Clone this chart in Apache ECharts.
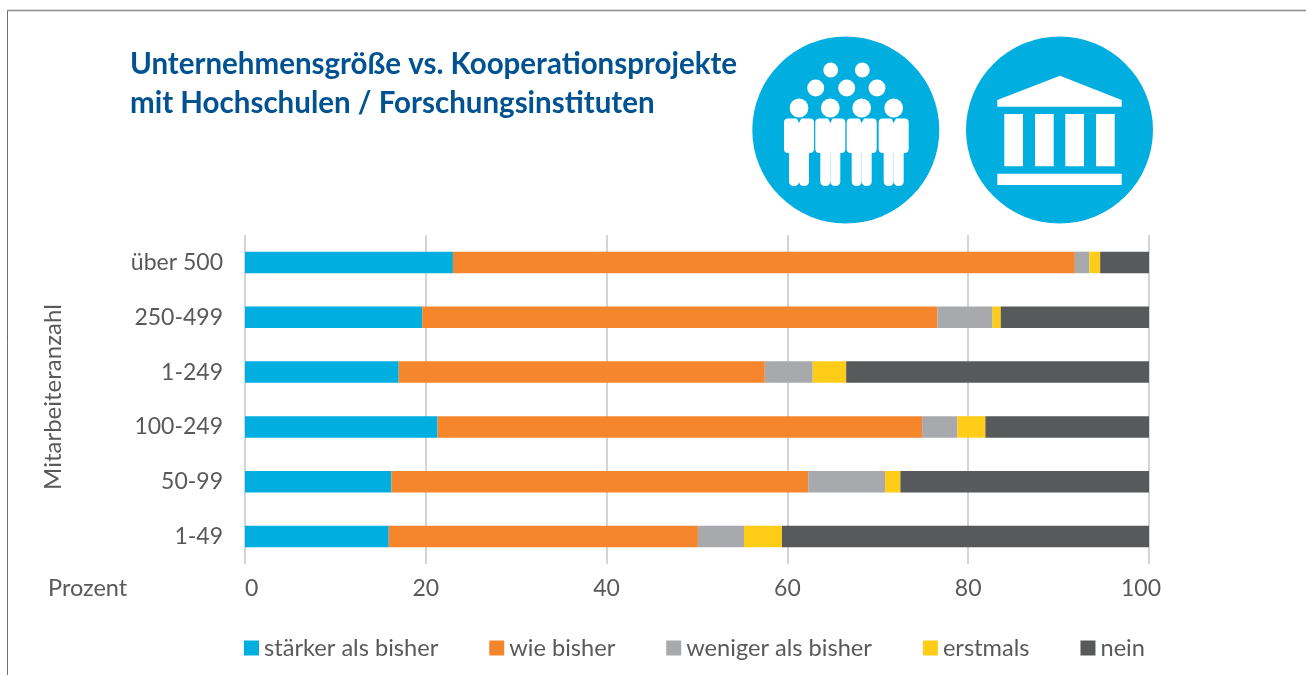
<!DOCTYPE html>
<html><head><meta charset="utf-8">
<style>html,body{margin:0;padding:0;background:#fff}#c{width:1306px;height:675px}</style>
<script src="https://cdn.jsdelivr.net/npm/echarts@6/dist/echarts.min.js"></script>
</head><body><div id="c"></div>
<script>
const categories = ['1-49','50-99','100-249','1-249','250-499','über 500'];
const staerker = [15.9,16.2,21.3,17.0,19.6,23.0];
const wieBisher = [34.2,46.1,53.6,40.5,57.0,68.8];
const weniger = [5.1,8.5,3.9,5.3,6.1,1.6];
const erstmals = [4.2,1.7,3.1,3.7,0.9,1.2];
const nein = [40.6,27.5,18.1,33.5,16.4,5.4];
const seriesNames = ['stärker als bisher','wie bisher','weniger als bisher','erstmals','nein'];
const seriesColors = ['#00aee0','#f6862c','#a7a9ac','#ffcd17','#58595b'];
const seriesValues = [staerker,wieBisher,weniger,erstmals,nein];
const titleLines = 'Unternehmensgröße vs. Kooperationsprojekte\nmit Hochschulen / Forschungsinstituten';
const FONT = 'Lato';
const TXT = '#58595b';
const ICON = '#00aee0';

const chart = echarts.init(document.getElementById('c'), null, {renderer:'canvas'});

function white(shape, type){ return {type:type, shape:shape, style:{fill:'#fff'}, silent:true}; }
const g = [];
// frame
g.push({type:'line',shape:{x1:7.5,y1:10.5,x2:1306,y2:10.5},style:{stroke:'#8a8b8d',lineWidth:1.5},silent:true});
g.push({type:'line',shape:{x1:7.5,y1:10.5,x2:7.5,y2:675},style:{stroke:'#6d6e71',lineWidth:1},silent:true});
// icon discs
g.push({type:'circle',shape:{cx:845.8,cy:130,r:93.5},style:{fill:ICON},silent:true});
g.push({type:'circle',shape:{cx:1059.5,cy:130,r:93.5},style:{fill:ICON},silent:true});
// people, back rows
[[830.7,70],[862.3,70]].forEach(p=>g.push(white({cx:p[0],cy:p[1],r:7.4},'circle')));
[[815.7,88],[846.7,88],[877,88]].forEach(p=>g.push(white({cx:p[0],cy:p[1],r:8.5},'circle')));
// people, front row
[799,830.3,861.7,893.7].forEach(x=>{
  g.push(white({cx:x,cy:108,r:9.4},'circle'));
  g.push(white({x:x-15,y:118.5,width:30,height:34.5,r:4},'rect'));
  g.push(white({x:x-10,y:145,width:10,height:41,r:[0,0,4.5,4.5]},'rect'));
  g.push(white({x:x,y:145,width:10,height:41,r:[0,0,4.5,4.5]},'rect'));
  g.push({type:'polygon',shape:{points:[[x-2.5,118],[x+2.5,118],[x,123]]},style:{fill:ICON},silent:true});
});
// building
g.push({type:'polygon',shape:{points:[[997.3,100],[1060,75.7],[1121.7,100],[1121.7,106.7],[997.3,106.7]]},style:{fill:'#fff'},silent:true});
[1004.3,1035,1065.3,1096].forEach(x=>g.push(white({x:x,y:114,width:18.7,height:52.3},'rect')));
g.push(white({x:997.3,y:173.7,width:124.4,height:11.3},'rect'));
// title
g.push({type:'text',left:130,top:45,style:{text:titleLines,font:'bold 29.5px '+FONT,fill:'#005291',lineHeight:39},silent:true});
// x-axis caption
g.push({type:'text',left:48,top:576,style:{text:'Prozent',font:'23.5px '+FONT,fill:TXT},silent:true});

chart.setOption({
  animation:false,
  backgroundColor:'#fff',
  textStyle:{fontFamily:FONT},
  grid:{left:245,right:157,top:235,height:329,containLabel:false},
  legend:{
    left:244,top:636,padding:0,itemWidth:15,itemHeight:15,itemGap:51,icon:'rect',
    data:seriesNames,selectedMode:false,
    textStyle:{color:TXT,fontSize:23.6,fontFamily:FONT}
  },
  xAxis:{type:'value',min:0,max:100,interval:20,
    axisLine:{show:false},axisTick:{show:false},
    axisLabel:{color:TXT,fontSize:23,margin:13,fontFamily:FONT,alignMinLabel:'left',
      formatter:v=>v===100?'{m|100}':String(v),
      rich:{m:{color:TXT,fontSize:23,fontFamily:FONT,padding:[0,16,0,0]}}},
    splitLine:{show:true,lineStyle:{color:'#c6c7c9',width:1.5}}},
  yAxis:{type:'category',data:categories,
    name:'Mitarbeiteranzahl',nameLocation:'middle',nameGap:174,
    nameTextStyle:{color:TXT,fontSize:24,fontFamily:FONT,padding:[0,0,6,5]},
    axisLine:{show:false},axisTick:{show:false},
    axisLabel:{color:TXT,fontSize:23,margin:22,fontFamily:FONT}},
  series:seriesNames.map((n,i)=>({
    name:n,type:'bar',stack:'total',data:seriesValues[i],barWidth:21.5,
    itemStyle:{color:seriesColors[i]}
  })),
  graphic:{elements:g}
});
</script></body></html>
